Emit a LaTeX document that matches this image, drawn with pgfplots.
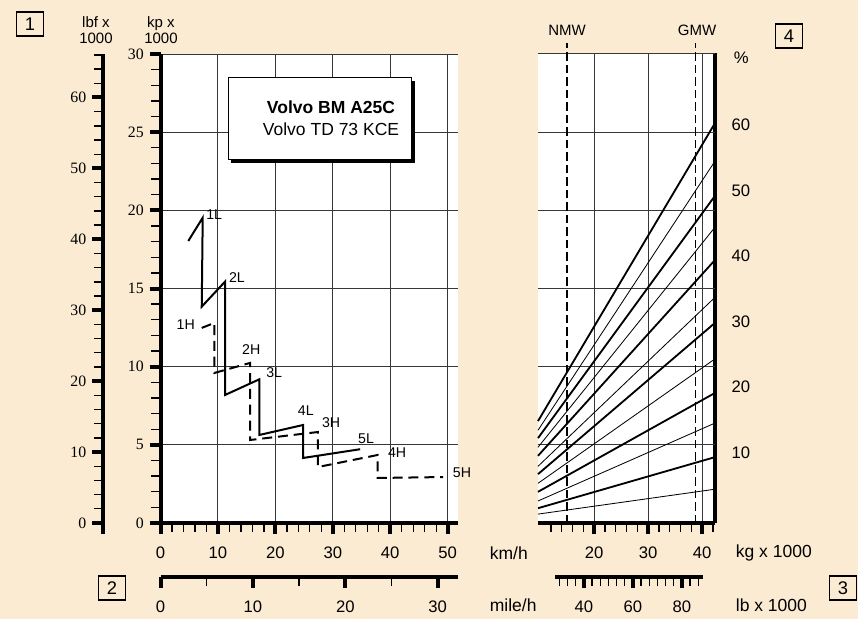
\documentclass[border=0pt]{standalone}
\usepackage{fontspec}
\setmainfont{Liberation Sans}
\newfontfamily\numfont{Liberation Serif}
\usepackage{pgfplots}
\pgfplotsset{compat=1.18}
\definecolor{paper}{RGB}{251,235,210}
\definecolor{gridc}{RGB}{55,55,55}

\pgfplotsset{
  chart/.style={
    scale only axis, anchor=south west, clip=false,
    /pgf/number format/assume math mode=true,
    major tick length=6.5pt, minor tick length=5.5pt,
    tick style={black},
    major tick style={line width=2.4pt, black},
    minor tick style={line width=0.8pt, black},
    major grid style={line width=0.55pt, gridc},
    tick label style={font=\fontsize{10}{11}\selectfont},
  },
  thickax/.style={axis line style={-, line width=2.4pt}, tick align=outside},
  sernum/.style={tick label style={font=\fontsize{9.5}{10}\numfont}},
  xlow/.style={xticklabel style={font=\fontsize{10}{11}\selectfont, yshift=-4.5pt}},
}
\tikzset{lbl/.style={font=\fontsize{8.5}{9}\selectfont, inner sep=0pt}}
\begin{document}
\begin{tikzpicture}
\begin{scope}[x=0.6pt,y=0.6pt]
\fill[paper] (0,0) rectangle (858,619);
\end{scope}

% lbf x 1000 scale
\begin{axis}[chart, sernum, at={(61.8pt,51.24pt)}, width=1pt, height=287.8pt,
  xmin=0, xmax=1, ymin=-1.5, ymax=66.14,
  axis y line=left, hide x axis,
  ytick={0,10,...,60}, minor ytick={2,4,...,66}, thickax]
\end{axis}

% tractive force vs speed
\begin{axis}[chart, sernum, at={(96.3pt,57.6pt)}, width=178.5pt, height=281.4pt,
  xmin=0, xmax=51.8, ymin=0, ymax=30,
  axis x line=bottom, axis y line=left,
  axis background/.style={fill=white},
  xtick={0,10,...,50}, minor xtick={2,4,...,50},
  ytick={0,5,...,30}, minor ytick={1,2,...,30},
  grid=major, xlow, thickax]
\addplot[black, line width=1.2pt] coordinates {(4.84,18.04) (7.35,19.53) (7.18,13.84) (11.24,15.44) (11.24,8.19) (17.2,9.19) (17.2,5.63) (24.83,6.27) (24.83,4.16) (34.76,4.72)};
\addplot[black, line width=1.2pt, dash pattern=on 6pt off 3.5pt] coordinates {(7.18,12.48) (9.4,12.8) (9.4,9.6) (15.6,10.24) (15.6,5.31) (27.4,5.82) (27.4,3.58) (37.8,4.35) (37.8,2.88) (49.2,2.94)};
\node[lbl] at (axis cs:9.35,19.7) {1L};
\node[lbl] at (axis cs:13.3,15.7) {2L};
\node[lbl] at (axis cs:4.4,12.7) {1H};
\node[lbl] at (axis cs:15.8,11.1) {2H};
\node[lbl] at (axis cs:19.8,9.6) {3L};
\node[lbl] at (axis cs:25.3,7.2) {4L};
\node[lbl] at (axis cs:29.7,6.4) {3H};
\node[lbl] at (axis cs:35.8,5.4) {5L};
\node[lbl] at (axis cs:41.2,4.5) {4H};
\node[lbl] at (axis cs:52.5,3.2) {5H};
\end{axis}

% mile/h scale
\begin{axis}[chart, at={(96.3pt,25.2pt)}, width=178.5pt, height=1pt,
  xmin=0, xmax=32.2, ymin=0, ymax=1,
  axis x line=bottom, hide y axis,
  xtick={0,10,20,30}, minor xtick={5,15,25}, xlow, thickax]
\end{axis}

% gradeability vs weight
\begin{axis}[chart, at={(322.8pt,57.6pt)}, width=106.2pt, height=282pt,
  xmin=9.6, xmax=42.4, ymin=-0.76, ymax=71,
  axis x line=bottom, axis y line=right,
  axis background/.style={fill=white},
  xtick={20,30,40}, minor xtick={12,14,...,42}, xmajorgrids,
  ytick={10,20,...,60}, ytick style={draw=none},
  yticklabel style={anchor=west},
  extra y ticks={11.2,23.1,35.0,47.0,58.9,71},
  extra y tick labels={},
  extra y tick style={grid=major}, xlow, thickax]
\addplot[black, line width=1.1pt] coordinates {(9.6,14.8) (42.4,60.3)};
\addplot[black, line width=0.5pt] coordinates {(9.6,13.4) (42.4,54.5)};
\addplot[black, line width=1.1pt] coordinates {(9.6,12.2) (42.4,49.2)};
\addplot[black, line width=0.5pt] coordinates {(9.6,10.8) (42.4,44.4)};
\addplot[black, line width=1.1pt] coordinates {(9.6,9.5) (42.4,39.4)};
\addplot[black, line width=0.5pt] coordinates {(9.6,7.9) (42.4,33.7)};
\addplot[black, line width=1.1pt] coordinates {(9.6,6.7) (42.4,29.8)};
\addplot[black, line width=0.5pt] coordinates {(9.6,5.3) (42.4,24.3)};
\addplot[black, line width=1.1pt] coordinates {(9.6,4.0) (42.4,19.1)};
\addplot[black, line width=0.5pt] coordinates {(9.6,2.6) (42.4,14.5)};
\addplot[black, line width=1.1pt] coordinates {(9.6,1.5) (42.4,9.3)};
\addplot[black, line width=0.5pt] coordinates {(9.6,0.6) (42.4,4.4)};
\addplot[black, line width=0.9pt, dash pattern=on 5pt off 2.5pt] coordinates {(15,-0.76) (15,72.5)};
\addplot[black, line width=0.9pt, dash pattern=on 5pt off 2.5pt] coordinates {(38.8,-0.76) (38.8,72.5)};
\end{axis}

% lb x 1000 scale
\begin{axis}[chart, at={(333pt,25.2pt)}, width=88.8pt, height=1pt,
  xmin=28.2, xmax=88.6, ymin=0, ymax=1,
  axis x line=bottom, hide y axis,
  xtick={40,60,80},
  minor xtick={30,33.33,36.67,43.33,46.67,50,53.33,56.67,63.33,66.67,70,73.33,76.67,83.33,86.67},
  xlow, thickax]
\end{axis}

\begin{scope}[x=0.6pt,y=0.6pt]
% title box
\fill[black] (231,619-163) rectangle (415,619-81);
\draw[fill=white, line width=0.6pt] (228,619-159) rectangle (411,619-78);
\node[font=\fontsize{10.5}{12}\selectfont\bfseries] at (331,619-107) {Volvo BM A25C};
\node[font=\fontsize{10.5}{12}\selectfont] at (331,619-129) {Volvo TD 73 KCE};

% axis titles
\node[font=\fontsize{9}{10}\selectfont, align=center, inner sep=0pt] at (96,619-30) {lbf x\\1000};
\node[font=\fontsize{9}{10}\selectfont, align=center, inner sep=0pt] at (161,619-30) {kp x\\1000};
\node[font=\fontsize{10.5}{12}\selectfont, anchor=west] at (484,619-553) {km/h};
\node[font=\fontsize{10.5}{12}\selectfont, anchor=west] at (484,619-605) {mile/h};
\node[font=\fontsize{10.5}{12}\selectfont, anchor=west] at (730,619-553) {kg x 1000};
\node[font=\fontsize{10.5}{12}\selectfont, anchor=west] at (730,619-605) {lb x 1000};
\node[font=\fontsize{9}{10}\selectfont] at (567,619-30) {NMW};
\node[font=\fontsize{9}{10}\selectfont] at (697,619-30) {GMW};
\node[font=\fontsize{10}{11}\selectfont, anchor=west] at (728,619-58) {\%};

% panel numbers
\foreach \n/\px/\py in {1/30/24, 2/112/588, 3/843/588, 4/789/36}
  \node[draw, line width=0.8pt, minimum width=16.5pt, minimum height=14.5pt, inner sep=0pt,
        font=\fontsize{11}{12}\selectfont] at (\px,619-\py) {\n};
\end{scope}
\end{tikzpicture}
\end{document}
